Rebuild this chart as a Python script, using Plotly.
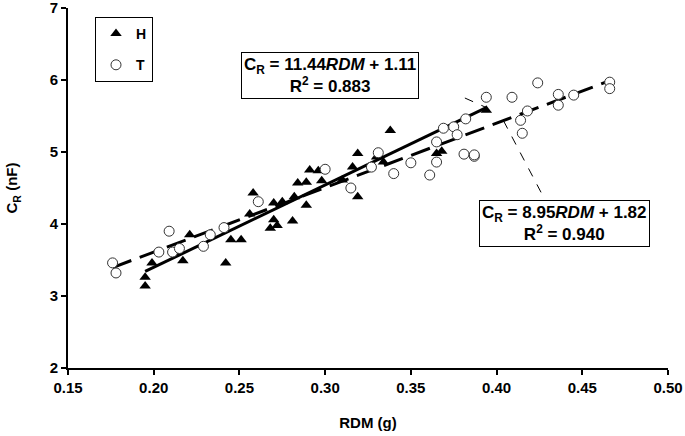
import plotly.graph_objects as go

# ---- data ----
h_rdm = [0.195, 0.195, 0.199, 0.212, 0.217, 0.221, 0.242, 0.245, 0.251, 0.256, 0.258,
         0.268, 0.270, 0.272, 0.270, 0.275, 0.281, 0.282, 0.284, 0.289, 0.289, 0.291,
         0.296, 0.298, 0.310, 0.316, 0.319, 0.319, 0.330, 0.334, 0.338, 0.365, 0.368, 0.394]
h_cr = [3.26, 3.14, 3.46, 3.60, 3.49, 3.85, 3.46, 3.78, 3.78, 4.14, 4.43,
        3.94, 4.06, 3.98, 4.29, 4.31, 4.04, 4.38, 4.57, 4.58, 4.26, 4.75,
        4.74, 4.60, 4.61, 4.79, 4.98, 4.38, 4.93, 4.86, 5.30, 4.98, 5.01, 5.58]

t_rdm = [0.176, 0.178, 0.203, 0.209, 0.211, 0.215, 0.229, 0.233, 0.241, 0.261, 0.300,
         0.315, 0.327, 0.331, 0.340, 0.350, 0.361, 0.365, 0.365, 0.369, 0.375, 0.377,
         0.382, 0.381, 0.387, 0.387, 0.394, 0.409, 0.414, 0.415, 0.418, 0.424, 0.436,
         0.436, 0.445, 0.466, 0.466]
t_cr = [3.46, 3.32, 3.61, 3.90, 3.61, 3.66, 3.69, 3.85, 3.95, 4.31, 4.76,
        4.50, 4.79, 4.99, 4.70, 4.85, 4.68, 4.86, 5.14, 5.33, 5.35, 5.24,
        5.46, 4.97, 4.94, 4.96, 5.76, 5.76, 5.44, 5.26, 5.57, 5.96, 5.80,
        5.65, 5.79, 5.97, 5.88]

# regression fits shown on the chart
h_slope, h_icpt, h_r2 = 11.44, 1.11, 0.883
t_slope, t_icpt, t_r2 = 8.95, 1.82, 0.940

x_ticks = [0.15, 0.20, 0.25, 0.30, 0.35, 0.40, 0.45, 0.50]
y_ticks = [2, 3, 4, 5, 6, 7]

FONT = "Liberation Sans, Arial, sans-serif"

h_x = [min(h_rdm), max(h_rdm)]
h_y = [h_slope * v + h_icpt for v in h_x]
t_x = [min(t_rdm), max(t_rdm)]
t_y = [t_slope * v + t_icpt for v in t_x]

fig = go.Figure()
fig.add_trace(go.Scatter(x=h_x, y=h_y, mode="lines", showlegend=False,
                         line=dict(color="black", width=3), hoverinfo="skip"))
fig.add_trace(go.Scatter(x=t_x, y=t_y, mode="lines", showlegend=False,
                         line=dict(color="black", width=3, dash="20px,9px"), hoverinfo="skip"))
fig.add_trace(go.Scatter(x=h_rdm, y=h_cr, mode="markers", name="<b>H</b>", legendgroup="h",
                         marker=dict(symbol="triangle-up", size=10, color="black",
                                     line=dict(width=0))))
fig.add_trace(go.Scatter(x=t_rdm, y=t_cr, mode="markers", name="<b>T</b>", legendgroup="t",
                         marker=dict(symbol="circle", size=10, color="white",
                                     line=dict(color="#333333", width=1))))

# leader lines from annotation boxes to the fit lines
h_end = max(h_rdm)
t_pt = 0.404
fig.add_shape(type="line", x0=0.3815, y0=5.75, x1=h_end, y1=h_slope * h_end + h_icpt,
              line=dict(color="black", width=1, dash="dash"))
fig.add_shape(type="line", x0=t_pt, y0=t_slope * t_pt + t_icpt, x1=0.4288, y1=4.31,
              line=dict(color="black", width=1, dash="dash"))

fig.add_annotation(x=0.3028, y=6.06, xref="x", yref="y", showarrow=False,
                   text=f"<b>C<sub>R</sub> = {h_slope:.2f}<i>RDM</i> + {h_icpt:.2f}<br>R<sup>2</sup> = {h_r2:.3f}</b>",
                   font=dict(family=FONT, size=17, color="black"),
                   bgcolor="white", bordercolor="black", borderwidth=1, borderpad=2)
fig.add_annotation(x=0.4396, y=4.01, xref="x", yref="y", showarrow=False,
                   text=f"<b>C<sub>R</sub> = {t_slope:.2f}<i>RDM</i> + {t_icpt:.2f}<br>R<sup>2</sup> = {t_r2:.3f}</b>",
                   font=dict(family=FONT, size=17, color="black"),
                   bgcolor="white", bordercolor="black", borderwidth=1, borderpad=2)

fig.update_layout(
    width=685, height=436,
    margin=dict(l=68, r=17, t=8, b=68, autoexpand=False),
    plot_bgcolor="white", paper_bgcolor="white",
    font=dict(family=FONT, size=14, color="black"),
    showlegend=True,
    legend=dict(x=0.045, y=0.975, xanchor="left", yanchor="top",
                bordercolor="black", borderwidth=1, bgcolor="white",
                font=dict(family=FONT, size=14, color="black"),
                itemwidth=30, tracegroupgap=10),
    xaxis=dict(range=[0.15, 0.50], tickmode="array", tickvals=x_ticks, tickformat=".2f",
               tickfont=dict(family=FONT, size=15, weight="bold"),
               ticklabeloverflow="allow",
               showgrid=False, zeroline=False, showline=True, linecolor="black",
               linewidth=2, ticks="outside", ticklen=5, tickwidth=2, tickcolor="black",
               automargin=False,
               title=dict(text="<b>RDM (g)</b>", standoff=22,
                          font=dict(family=FONT, size=15))),
    yaxis=dict(range=[2, 7], tickmode="array", tickvals=y_ticks, tickformat="d",
               tickfont=dict(family=FONT, size=15, weight="bold"),
               ticklabeloverflow="allow",
               showgrid=False, zeroline=False, showline=True, linecolor="black",
               linewidth=2, ticks="outside", ticklen=5, tickwidth=2, tickcolor="black",
               automargin=False,
               title=dict(text="<b>C<sub>R</sub> (nF)</b>", standoff=28,
                          font=dict(family=FONT, size=15))),
)

fig.write_html("out.html", config={"displayModeBar": False},
               post_script="document.body.style.margin='0px';document.documentElement.style.overflow='hidden';")
